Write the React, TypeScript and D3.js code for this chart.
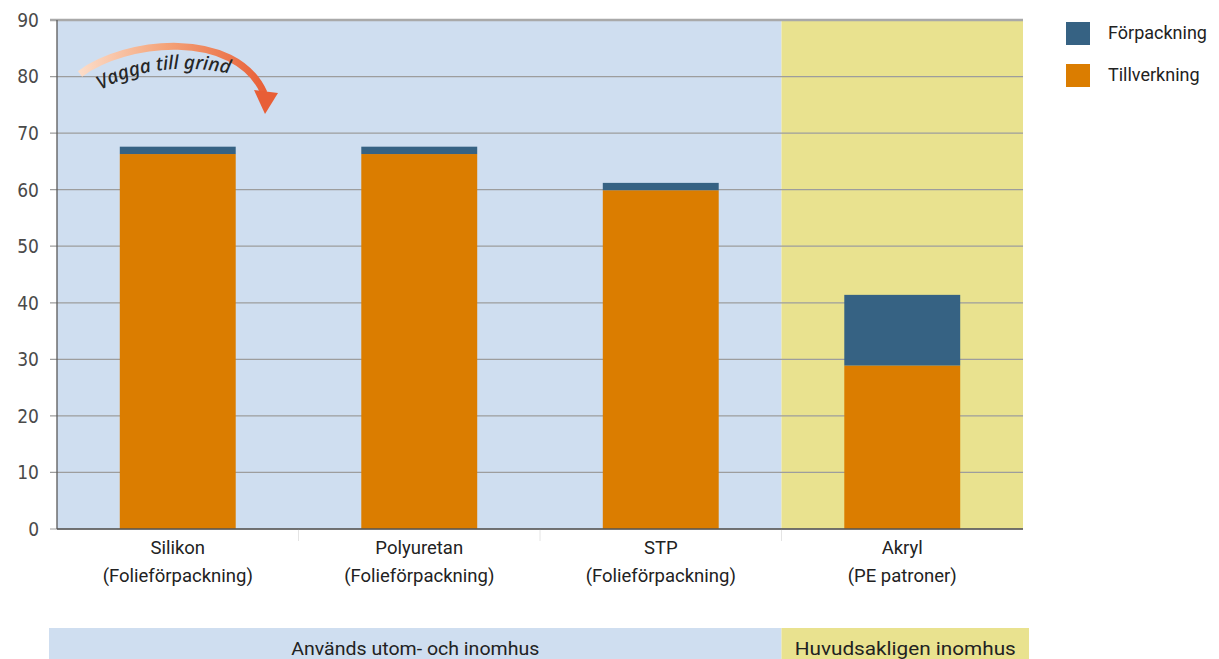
import React from "react";
import * as d3 from "d3";

const categories = ["Silikon", "Polyuretan", "STP", "Akryl"];
const subLabels = ["(Folieförpackning)", "(Folieförpackning)", "(Folieförpackning)", "(PE patroner)"];
const tillverkning = [66.3, 66.3, 59.9, 28.9];
const forpackning = [1.3, 1.3, 1.3, 12.5];
const yTicks = [0, 10, 20, 30, 40, 50, 60, 70, 80, 90];
const seriesNames = ["Förpackning", "Tillverkning"];
const regionLabels = ["Används utom- och inomhus", "Huvudsakligen inomhus"];
const regionLabelWidths = [248, 221];
const regionSpans = [[0, 2], [3, 3]];
const annotation = "Vagga till grind";

const COLORS = { Tillverkning: "#db7d00", Förpackning: "#366283" };
const BG = ["#cfdef0", "#e9e28f"];
const FONT = "Roboto, 'Noto Sans', sans-serif";
const COND = "'Liberation Sans Narrow', 'DejaVu Sans Condensed', Roboto, sans-serif";

export default function App() {
  const W = 1219, H = 659;
  const left = 57, right = 1023, top = 20, bottom = 529;
  const x = d3.scaleBand<string>().domain(categories).range([left, right]).paddingInner(0.52).paddingOuter(0.26);
  const xOuter = d3.scaleBand<string>().domain(categories).range([left, right]);
  const y = d3.scaleLinear().domain([0, 90]).range([bottom, top]);

  const regionX = (span: number[], l: number, r: number) => {
    const a = span[0] === 0 ? l : xOuter(categories[span[0]])!;
    const b = span[1] === categories.length - 1 ? r : xOuter(categories[span[1]])! + xOuter.bandwidth();
    return [a, b];
  };

  const arrowPath = "M 80 74 C 125 40, 235 28, 264 93";
  const textArc = "M 101 90 C 140 66, 200 62, 252 80";

  return (
    <svg width={W} height={H} style={{ position: "absolute", left: 0, top: 0 }}>
      <defs>
        <linearGradient id="arrowGrad" x1="80" x2="268" y1="0" y2="0" gradientUnits="userSpaceOnUse">
          <stop offset="0" stopColor="#fcdcc8" />
          <stop offset="0.45" stopColor="#f4a47a" />
          <stop offset="1" stopColor="#e85e36" />
        </linearGradient>
        <path id="txtArc" d={textArc} />
      </defs>
      <rect x={0} y={0} width={W} height={H} fill="#fff" />
      {regionSpans.map((s, i) => {
        const [a, b] = regionX(s, left, right);
        return <rect key={i} x={a} y={top} width={b - a} height={bottom - top} fill={BG[i]} />;
      })}
      {yTicks.map((t) => (
        <g key={t}>
          <line x1={left - 7} x2={right} y1={y(t)} y2={y(t)} stroke={t === 90 ? "#a9a9a9" : "#9d9d9d"} strokeWidth={t === 90 ? 2.5 : 1.2} />
          <text x={39} y={y(t)} dy="0.36em" textAnchor="end" fontFamily={COND} fontSize={19} fill="#4a4a4a">{t}</text>
        </g>
      ))}
      {categories.map((c, i) => {
        const bx = x(c)!;
        const bw = x.bandwidth();
        const t = tillverkning[i];
        const f = forpackning[i];
        return (
          <g key={c}>
            <rect x={bx} y={y(t)} width={bw} height={y(0) - y(t)} fill={COLORS.Tillverkning} />
            <rect x={bx} y={y(t + f)} width={bw} height={y(t) - y(t + f)} fill={COLORS.Förpackning} />
            <text x={bx + bw / 2} y={547} dy="0.36em" textAnchor="middle" fontFamily={FONT} fontSize={18.5} fill="#222">{c}</text>
            <text x={bx + bw / 2} y={575} dy="0.36em" textAnchor="middle" fontFamily={FONT} fontSize={18.5} fill="#222">{subLabels[i]}</text>
          </g>
        );
      })}
      {categories.slice(1).map((c) => (
        <line key={c} x1={xOuter(c)!} x2={xOuter(c)!} y1={bottom} y2={bottom + 12} stroke="#e4e4e4" strokeWidth={1} />
      ))}
      <line x1={left} x2={left} y1={top} y2={bottom} stroke="#5a5a5a" strokeWidth={1.3} />
      <line x1={left} x2={right} y1={bottom} y2={bottom} stroke="#555" strokeWidth={1.6} />

      {/* arrow annotation */}
      <path d={arrowPath} fill="none" stroke="url(#arrowGrad)" strokeWidth={7} strokeLinecap="butt" />
      <path d="M 254 90 L 278 93 L 265 114 Z" fill="#e85e36" />
      <text fontFamily="'Noto Sans', sans-serif" fontStyle="italic" fontWeight={500} fontSize={19} fill="#262626">
        <textPath href="#txtArc">{annotation}</textPath>
      </text>

      {/* legend */}
      {seriesNames.map((s, i) => (
        <g key={s}>
          <rect x={1066} y={22 + i * 42} width={24} height={23} fill={(COLORS as any)[s]} />
          <text x={1108} y={33 + i * 42} dy="0.36em" fontFamily={FONT} fontSize={18} fill="#222">{s}</text>
        </g>
      ))}

      {/* bottom region band */}
      {regionSpans.map((s, i) => {
        const [a, b] = regionX(s, 49, 1029);
        return (
          <g key={i}>
            <rect x={a} y={628} width={b - a} height={31} fill={BG[i]} />
            <text x={(a + b) / 2} y={648} dy="0.36em" textAnchor="middle" fontFamily={FONT} fontSize={19}
              textLength={regionLabelWidths[i]} lengthAdjust="spacingAndGlyphs" fill="#222">{regionLabels[i]}</text>
          </g>
        );
      })}
    </svg>
  );
}
